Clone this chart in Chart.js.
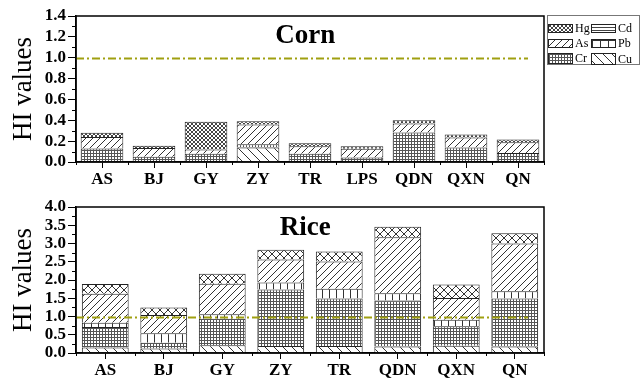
<!DOCTYPE html>
<html><head><meta charset="utf-8">
<script src="https://cdn.jsdelivr.net/npm/chart.js@4"></script>
<style>
html,body{margin:0;padding:0;background:#fff;}
#wrap{position:relative;width:642px;height:381px;overflow:hidden;background:#fff;}
canvas{position:absolute;left:0;}
</style></head><body>
<div id="wrap">
<canvas id="corn" width="642" height="190" style="top:0"></canvas>
<canvas id="rice" width="642" height="191" style="top:190px"></canvas>
</div>
<script>
// ---------- DATA ----------
const elements = ['Cu', 'Cr', 'Pb', 'As', 'Cd', 'Hg'];

const cornCategories = ['AS', 'BJ', 'GY', 'ZY', 'TR', 'LPS', 'QDN', 'QXN', 'QN'];
const cornCu = [0.01, 0.01, 0.01, 0.14, 0.01, 0.01, 0.01, 0.01, 0.01];
const cornCr = [0.12, 0.04, 0.07, 0.03, 0.07, 0.032, 0.272, 0.128, 0.076];
const cornPb = [0, 0, 0, 0, 0, 0, 0, 0, 0];
const cornAs = [0.11, 0.085, 0.04, 0.19, 0.07, 0.086, 0.086, 0.096, 0.103];
const cornCd = [0, 0, 0, 0, 0, 0, 0, 0, 0];
const cornHg = [0.04, 0.02, 0.265, 0.03, 0.03, 0.022, 0.032, 0.029, 0.026];
const cornTicks = ['0.0', '0.2', '0.4', '0.6', '0.8', '1.0', '1.2', '1.4'];

const riceCategories = ['AS', 'BJ', 'GY', 'ZY', 'TR', 'QDN', 'QXN', 'QN'];
const riceCu = [0.15, 0.12, 0.21, 0.19, 0.19, 0.18, 0.20, 0.18];
const riceCr = [0.56, 0.16, 0.73, 1.55, 1.30, 1.26, 0.53, 1.31];
const ricePb = [0.12, 0.26, 0.12, 0.19, 0.27, 0.20, 0.18, 0.20];
const riceAs = [0.79, 0.50, 0.84, 0.63, 0.75, 1.53, 0.60, 1.31];
const riceCd = [0, 0, 0, 0, 0, 0, 0, 0];
const riceHg = [0.27, 0.21, 0.27, 0.27, 0.27, 0.29, 0.37, 0.28];
const riceTicks = ['0.0', '0.5', '1.0', '1.5', '2.0', '2.5', '3.0', '3.5', '4.0'];

const thresholdHI = 1.0;

// ---------- PATTERNS ----------
function makePattern(w, h, draw, col) {
  const c = document.createElement('canvas');
  c.width = w; c.height = h;
  const g = c.getContext('2d');
  g.fillStyle = '#fff'; g.fillRect(0, 0, w, h);
  g.strokeStyle = col || '#333'; g.lineWidth = 1;
  draw(g, w, h);
  return g.createPattern(c, 'repeat');
}
const diagUp = (g, s) => { g.beginPath(); for (const k of [-s, 0, s]) { g.moveTo(k, s); g.lineTo(k + s, 0); } g.stroke(); };
const diagDown = (g, s) => { g.beginPath(); for (const k of [-s, 0, s]) { g.moveTo(k, 0); g.lineTo(k + s, s); } g.stroke(); };
const cross = (g, s) => { diagUp(g, s); diagDown(g, s); };
const hline = (g, w, h) => { g.beginPath(); g.moveTo(0, 0.5); g.lineTo(w, 0.5); g.stroke(); };
const vline = (g, w, h) => { g.beginPath(); g.moveTo(0.5, 0); g.lineTo(0.5, h); g.stroke(); };
const grid = (g, w, h) => { hline(g, w, h); vline(g, w, h); };

const P = {
  HgFine: makePattern(4, 4, cross, '#444'),
  HgRice: makePattern(8, 8, cross, '#333'),
  Cd: makePattern(3, 3, hline, '#444'),
  As: makePattern(7, 7, diagUp, '#333'),
  PbGrid: makePattern(8, 8, grid, '#333'),
  PbRice: makePattern(7, 7, vline, '#333'),
  Cr: makePattern(3, 3, grid, '#555'),
  Cu: makePattern(9, 9, diagDown, '#333'),
};

const SERIF = '"Liberation Serif", "Times New Roman", serif';

// ---------- PLUGIN ----------
const decor = {
  id: 'decor',
  afterDatasetsDraw(chart, args, o) {
    const { ctx, chartArea: a, scales: { x, y } } = chart;
    ctx.save();
    // reference line
    ctx.strokeStyle = '#a0a010';
    ctx.lineWidth = 2;
    ctx.setLineDash([8, 3, 2, 3]);
    const yy = Math.round(y.getPixelForValue(thresholdHI)) + 0.5;
    ctx.beginPath(); ctx.moveTo(a.left, yy); ctx.lineTo(a.right - 16, yy); ctx.stroke();
    ctx.setLineDash([]);
    // frame
    ctx.strokeStyle = '#000'; ctx.lineWidth = 1.5;
    ctx.strokeRect(a.left, a.top, a.right - a.left, a.bottom - a.top);
    // minor y ticks
    ctx.lineWidth = 1;
    for (let v = o.minor; v < y.max; v += o.minor * 2) {
      const py = Math.round(y.getPixelForValue(v)) + 0.5;
      ctx.beginPath(); ctx.moveTo(a.left - 4, py); ctx.lineTo(a.left, py); ctx.stroke();
    }
    // minor x ticks at category boundaries
    const n = chart.data.labels.length;
    for (let i = 0; i <= n; i++) {
      const px = Math.round(x.getPixelForValue(i - 0.5)) + 0.5;
      ctx.beginPath(); ctx.moveTo(px, a.bottom); ctx.lineTo(px, a.bottom + 3); ctx.stroke();
    }
    // panel title
    ctx.fillStyle = '#000';
    ctx.font = 'bold 27px ' + SERIF;
    ctx.textAlign = 'center'; ctx.textBaseline = 'alphabetic';
    ctx.fillText(o.title, a.left + (a.right - a.left) * o.tx, a.top + o.ty);
    // legend
    if (o.legend) {
      ctx.strokeStyle = '#777'; ctx.lineWidth = 1;
      ctx.strokeRect(547.5, 15.5, 92, 49);
      const items = [
        ['Hg', P.HgFine, 548, 24, 8], ['Cd', P.Cd, 591, 24, 8],
        ['As', P.As, 548, 39, 8], ['Pb', P.PbGrid, 591, 39, 8],
        ['Cr', P.Cr, 548, 53, 10], ['Cu', P.Cu, 591, 53, 11],
      ];
      ctx.font = '12px ' + SERIF; ctx.textAlign = 'left'; ctx.textBaseline = 'middle';
      for (const [lab, pat, lx, ly, h] of items) {
        ctx.fillStyle = pat; ctx.fillRect(lx, ly, 24, h);
        ctx.strokeStyle = '#222'; ctx.strokeRect(lx + 0.5, ly + 0.5, 24, h);
        ctx.fillStyle = '#000'; ctx.fillText(lab, lx + 27, ly + h / 2 + 1);
      }
    }
    ctx.restore();
  }
};

function build(id, cats, series, pats, ymax, step, tickLabels, barPct, o, xH) {
  const datasets = elements.map((el, i) => ({
    label: el,
    data: series[i].map((v) => (v ? v : null)),
    backgroundColor: pats[i],
    borderColor: '#222',
    borderWidth: 1,
    borderSkipped: 'start',
    inflateAmount: 0,
    barPercentage: barPct,
    categoryPercentage: 1.0,
  }));
  return new Chart(document.getElementById(id), {
    type: 'bar',
    data: { labels: cats, datasets },
    plugins: [decor],
    options: {
      responsive: false,
      animation: false,
      devicePixelRatio: 1,
      layout: { padding: { top: o.padTop, right: 98, left: 0, bottom: 0 } },
      plugins: { legend: { display: false }, tooltip: { enabled: false }, decor: o },
      scales: {
        x: {
          stacked: true,
          offset: true,
          grid: { display: true, drawOnChartArea: false, offset: false, tickLength: 6, color: '#000', tickWidth: 1 },
          border: { display: true, color: '#000', width: 1.5 },
          ticks: { color: '#000', font: { family: SERIF, size: 17, weight: 'bold' }, padding: 1, maxRotation: 0, autoSkip: false },
          afterFit: (s) => { s.height = xH; },
        },
        y: {
          stacked: true,
          min: 0, max: ymax,
          grid: { display: true, drawOnChartArea: false, tickLength: 8, color: '#000', tickWidth: 1 },
          border: { display: true, color: '#000', width: 1.5 },
          ticks: {
            stepSize: step, color: '#000', padding: 2, autoSkip: false,
            font: { family: SERIF, size: 17, weight: 'bold' },
            callback: (v, i) => tickLabels[i] !== undefined ? tickLabels[i] : v.toFixed(1),
          },
          title: { display: true, text: 'HI values', color: '#000', font: { family: SERIF, size: 27, lineHeight: 1 }, padding: { top: 10, bottom: 0 } },
          afterFit: (s) => { s.width = 76; },
        }
      }
    }
  });
}

build('corn', cornCategories, [cornCu, cornCr, cornPb, cornAs, cornCd, cornHg],
  [P.Cu, P.Cr, P.PbGrid, P.As, P.Cd, P.HgFine], 1.4, 0.2, cornTicks, 0.82,
  { minor: 0.1, title: 'Corn', tx: 0.49, ty: 27, legend: true, padTop: 16 }, 28);

build('rice', riceCategories, [riceCu, riceCr, ricePb, riceAs, riceCd, riceHg],
  [P.Cu, P.Cr, P.PbRice, P.As, P.Cd, P.HgRice], 4.0, 0.5, riceTicks, 0.8,
  { minor: 0.25, title: 'Rice', tx: 0.49, ty: 27.5, legend: false, padTop: 17 }, 28);
</script>
</body></html>
